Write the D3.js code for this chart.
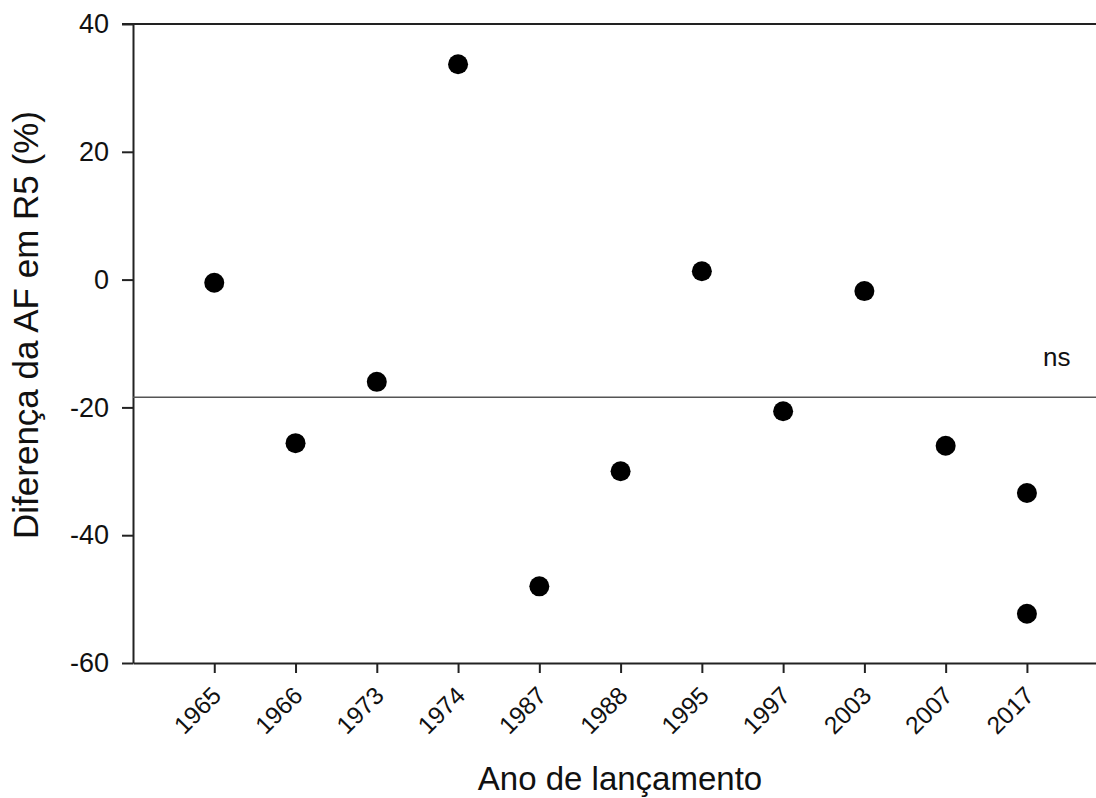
<!DOCTYPE html>
<html>
<head>
<meta charset="utf-8">
<script src="https://cdn.jsdelivr.net/npm/d3@7"></script>
<style>
	body { margin: 0; background: #fff; }
	svg text { font-family: "Liberation Sans", Arial, sans-serif; fill: #111; }
</style>
</head>
<body>
<svg width="1096" height="798"></svg>
<script>
// categories (release year) and values
let years = ['1965', '1966', '1973', '1974', '1987', '1988', '1995', '1997', '2003', '2007', '2017']
let points = [
	{year: '1965', value: -0.5},
	{year: '1966', value: -25.6},
	{year: '1973', value: -16.0},
	{year: '1974', value: 33.7},
	{year: '1987', value: -48.0},
	{year: '1988', value: -30.0},
	{year: '1995', value: 1.3},
	{year: '1997', value: -20.6},
	{year: '2003', value: -1.8},
	{year: '2007', value: -26.0},
	{year: '2017', value: -33.4},
	{year: '2017', value: -52.3}
]
let yTicks = [40, 20, 0, -20, -40, -60]
let meanLine = -18.4

let svg = d3.select('svg')
let plotLeft = 133, plotRight = 1096, plotTop = 24, plotBottom = 663

// index based x scale: one empty slot before the first year
let x = d3.scaleLinear().domain([-1, 10.85]).range([plotLeft, plotRight])
let y = d3.scaleLinear().domain([-60, 40]).range([plotBottom, plotTop])

// y axis
let yAxis = svg.append('g')
	.attr('transform', 'translate(' + plotLeft + ',0)')
	.call(d3.axisLeft(y).tickValues(yTicks).tickFormat(d => String(d))
		.tickSize(11).tickPadding(13).tickSizeOuter(0))
yAxis.select('.domain').attr('stroke', '#222').attr('stroke-width', 2)
yAxis.selectAll('.tick line').attr('stroke', '#222').attr('stroke-width', 2)
yAxis.selectAll('.tick text').style('font-size', '27px').attr('fill', '#111')

// top border
svg.append('line')
	.attr('x1', plotLeft - 11).attr('x2', plotRight)
	.attr('y1', y(40)).attr('y2', y(40))
	.attr('stroke', '#222').attr('stroke-width', 2)

// x axis
let xAxis = svg.append('g')
	.attr('transform', 'translate(0,' + plotBottom + ')')
	.call(d3.axisBottom(x).tickValues(d3.range(years.length)).tickFormat(i => years[i])
		.tickSize(10).tickSizeOuter(0))
xAxis.select('.domain').attr('stroke', '#222').attr('stroke-width', 2)
xAxis.selectAll('.tick line').attr('stroke', '#222').attr('stroke-width', 2)
xAxis.selectAll('.tick text')
	.style('font-size', '24.5px')
	.attr('fill', '#111')
	.attr('text-anchor', 'end')
	.attr('x', 0).attr('y', 0).attr('dy', 0)
	.attr('transform', 'translate(8,34) rotate(-45)')

// regression / mean line
svg.append('line')
	.attr('x1', plotLeft).attr('x2', plotRight)
	.attr('y1', y(meanLine)).attr('y2', y(meanLine))
	.attr('stroke', '#555').attr('stroke-width', 1.5)

svg.append('text')
	.attr('x', 1043).attr('y', 366)
	.style('font-size', '26px')
	.text('ns')

// points
svg.append('g').selectAll('circle')
	.data(points)
	.join('circle')
	.attr('cx', d => x(years.indexOf(d.year)))
	.attr('cy', d => y(d.value))
	.attr('r', 10)
	.attr('fill', '#000')

// axis titles
svg.append('text')
	.attr('x', 620).attr('y', 790)
	.attr('text-anchor', 'middle')
	.style('font-size', '33px')
	.text('Ano de lançamento')

svg.append('text')
	.attr('transform', 'translate(38,325) rotate(-90)')
	.attr('text-anchor', 'middle')
	.style('font-size', '35px')
	.text('Diferença da AF em R5 (%)')
</script>
</body>
</html>
